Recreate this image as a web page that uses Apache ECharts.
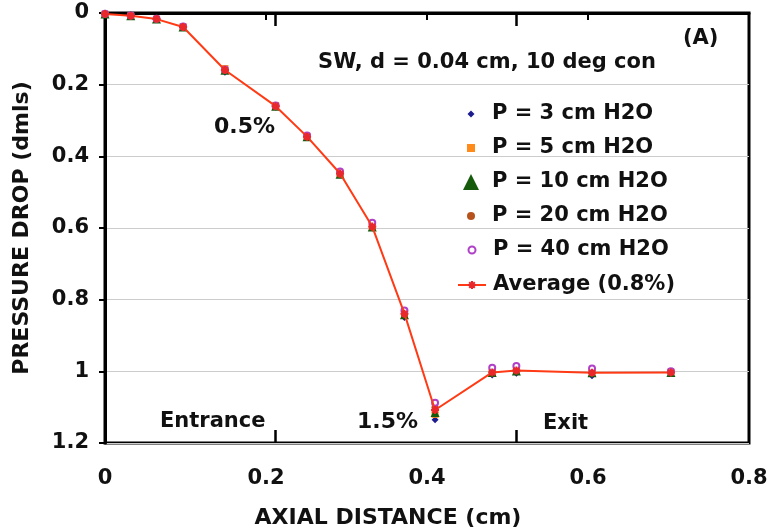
<!DOCTYPE html>
<html><head><meta charset="utf-8">
<script src="https://cdn.jsdelivr.net/npm/echarts@6/dist/echarts.min.js"></script>
<style>html,body{margin:0;padding:0;background:#fff}#c{width:770px;height:531px}</style>
</head><body><div id="c"></div>
<script>
const axialX = [0, 0.032, 0.064, 0.097, 0.149, 0.212, 0.251, 0.292, 0.332, 0.372, 0.41, 0.481, 0.511, 0.605, 0.703];
const p3  = [0.003, 0.009, 0.018, 0.04, 0.165, 0.262, 0.347, 0.452, 0.600, 0.850, 1.135, 1.010, 1.005, 1.012, 1.006];
const p5  = [0.003, 0.008, 0.017, 0.038, 0.155, 0.258, 0.344, 0.448, 0.598, 0.842, 1.120, 1.003, 0.998, 1.004, 1.002];
const p10 = [0.003, 0.008, 0.017, 0.039, 0.160, 0.260, 0.345, 0.450, 0.597, 0.842, 1.115, 1.003, 0.999, 1.004, 1.003];
const p20 = [0.003, 0.008, 0.017, 0.039, 0.160, 0.260, 0.345, 0.450, 0.597, 0.840, 1.100, 1.000, 0.997, 1.002, 1.002];
const p40 = [0.002, 0.007, 0.016, 0.038, 0.158, 0.258, 0.342, 0.442, 0.585, 0.830, 1.088, 0.990, 0.985, 0.992, 1.000];
const avg = [0.003, 0.008, 0.017, 0.039, 0.159, 0.260, 0.345, 0.448, 0.596, 0.839, 1.108, 1.003, 0.998, 1.004, 1.003];
const seriesNames = ['P = 3 cm H2O', 'P = 5 cm H2O', 'P = 10 cm H2O', 'P = 20 cm H2O', 'P = 40 cm H2O', 'Average (0.8%)'];
const xTicks = [0, 0.2, 0.4, 0.6, 0.8];
const yTicks = [0, 0.2, 0.4, 0.6, 0.8, 1.0, 1.2];
const sectionMarks = [0.212, 0.511];
const annotations = ['0.5%', '1.5%', 'Entrance', 'Exit'];

const pairs = arr => axialX.map((x, i) => [x, arr[i]]);
const F = 'DejaVu Sans';
const asterisk = 'path://M0,5L10,5M5,0L5,10M1.5,1.5L8.5,8.5M8.5,1.5L1.5,8.5';
const colors = ['#1c1c8f', '#ff8c1a', '#165a0c', '#b8521c', '#b040c8', '#ff3a14'];

const chart = echarts.init(document.getElementById('c'), null, {renderer: 'canvas'});

// one legend per entry so each icon keeps its own size
const rowCenters = [114, 148, 182, 216, 250, 285];
const iconSize = [7, 8, 16, 8, 7, 10];
const icons = ['diamond', 'rect', 'triangle', 'circle', 'emptyCircle', null];
const iconCenterX = 471, textStartX = 492;
const legends = seriesNames.map((n, i) => {
  const isLine = i === 5;
  const w = isLine ? 28 : iconSize[i];
  const h = iconSize[i];
  const left = iconCenterX - w / 2;
  const padL = textStartX - (left + w + 5);
  const item = {name: n};
  if (!isLine) {
    item.icon = icons[i];
    item.itemStyle = i === 4 ? {color: colors[4], borderColor: colors[4], borderWidth: 1} : {color: colors[i], borderWidth: 0, opacity: 1};
  }
  return {
    data: [item], orient: 'vertical', left: left, top: rowCenters[i] - 12,
    itemWidth: w, itemHeight: h, itemGap: 0, selectedMode: false, padding: 0,
    textStyle: {fontFamily: F, fontWeight: 'bold', fontSize: 21, lineHeight: 24, color: '#111', padding: [0, 0, 0, padL]}
  };
});

const txt = (s, size) => ({text: s, font: 'bold ' + size + 'px "DejaVu Sans"', fill: '#111'});

const option = {
  animation: false,
  grid: {left: 105, top: 13, width: 644, height: 430, outerBoundsMode: 'none', containLabel: false,
    show: true, borderColor: '#000', borderWidth: 3, backgroundColor: 'transparent'},
  title: [
    {text: 'SW, d = 0.04 cm, 10 deg con', left: 487, top: 52, textAlign: 'center', padding: 0,
     textStyle: {fontFamily: F, fontWeight: 'bold', fontSize: 21, color: '#111'}},
    {text: '(A)', left: 683, top: 28, padding: 0, textStyle: {fontFamily: F, fontWeight: 'bold', fontSize: 21, color: '#111'}}
  ],
  legend: legends,
  xAxis: [
    {type: 'value', min: xTicks[0], max: xTicks[xTicks.length - 1], interval: 0.2,
     name: 'AXIAL DISTANCE (cm)', nameLocation: 'middle', nameGap: 64,
     nameTextStyle: {fontFamily: F, fontWeight: 'bold', fontSize: 22, color: '#111', padding: [0, 78, 0, 0]},
     axisLine: {lineStyle: {color: '#000', width: 3}},
     axisTick: {length: 7, lineStyle: {color: '#000', width: 2}},
     axisLabel: {fontFamily: F, fontWeight: 'bold', fontSize: 21, color: '#111', margin: 25},
     splitLine: {show: false}},
    {type: 'value', min: 0, max: 0.8, position: 'top',
     axisLine: {show: false}, axisLabel: {show: false}, splitLine: {show: false},
     axisTick: {show: true, inside: true, length: 13, customValues: sectionMarks, lineStyle: {color: '#000', width: 2.5}}},
    {type: 'value', min: 0, max: 0.8, position: 'bottom',
     axisLine: {show: false}, axisLabel: {show: false}, splitLine: {show: false},
     axisTick: {show: true, inside: true, length: 13, customValues: sectionMarks, lineStyle: {color: '#000', width: 2.5}}}
  ],
  yAxis: {type: 'value', inverse: true, min: yTicks[0], max: yTicks[yTicks.length - 1], interval: 0.2,
    name: 'PRESSURE DROP (dmls)', nameLocation: 'middle', nameGap: 72,
    nameTextStyle: {fontFamily: F, fontWeight: 'bold', fontSize: 22, color: '#111'},
    axisLine: {lineStyle: {color: '#000', width: 3}},
    axisTick: {length: 6, lineStyle: {color: '#000', width: 2}},
    axisLabel: {fontFamily: F, fontWeight: 'bold', fontSize: 21, color: '#111', margin: 16},
    splitLine: {lineStyle: {color: '#cccccc', width: 1}}},
  graphic: [
    {type: 'text', left: 214, top: 116, style: txt(annotations[0], 22)},
    {type: 'text', left: 357, top: 411, style: txt(annotations[1], 22)},
    {type: 'text', left: 160, top: 411, style: txt(annotations[2], 21)},
    {type: 'text', left: 543, top: 413, style: txt(annotations[3], 21)}
  ],
  series: [
    {name: seriesNames[0], type: 'scatter', data: pairs(p3), symbol: 'diamond', symbolSize: 7, itemStyle: {color: colors[0], opacity: 1}},
    {name: seriesNames[1], type: 'scatter', data: pairs(p5), symbol: 'rect', symbolSize: 7, itemStyle: {color: colors[1], opacity: 1}},
    {name: seriesNames[2], type: 'scatter', data: pairs(p10), symbol: 'triangle', symbolSize: 9, itemStyle: {color: colors[2], opacity: 1}},
    {name: seriesNames[3], type: 'scatter', data: pairs(p20), symbol: 'circle', symbolSize: 7, itemStyle: {color: colors[3], opacity: 1}},
    {name: seriesNames[4], type: 'scatter', data: pairs(p40), symbol: 'emptyCircle', symbolSize: 6,
     itemStyle: {color: colors[4], borderColor: colors[4], borderWidth: 1, opacity: 1}},
    {name: seriesNames[5], type: 'line', data: pairs(avg), symbol: asterisk, symbolSize: 8, showAllSymbol: true, z: 5,
     lineStyle: {color: colors[5], width: 2}, itemStyle: {color: '#e8282a', borderColor: '#e8282a', borderWidth: 2}}
  ]
};
chart.setOption(option);
</script></body></html>
